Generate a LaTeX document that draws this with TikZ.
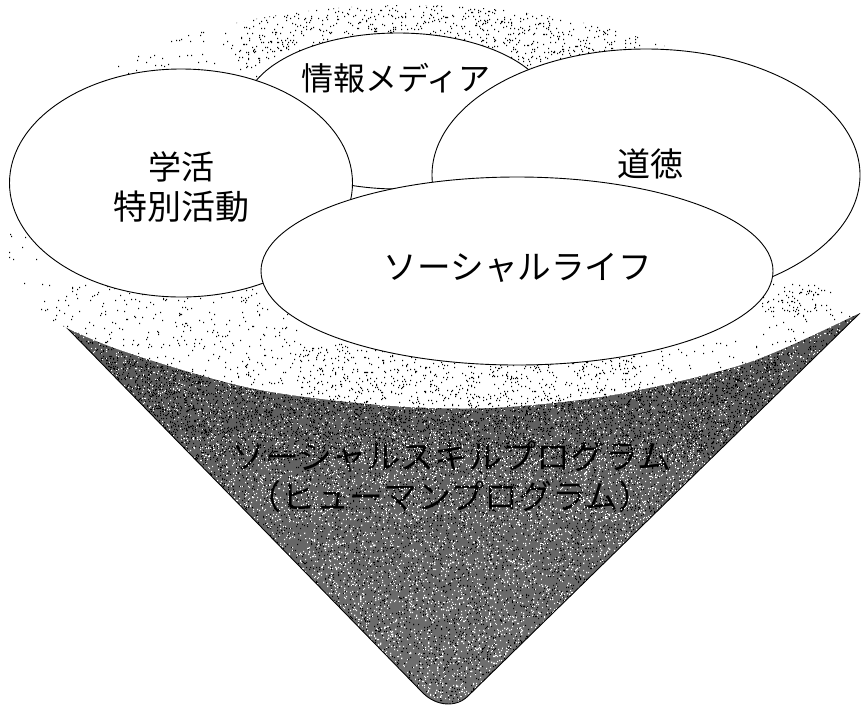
\documentclass[tikz,border=0pt]{standalone}
\usepackage{fontspec}
\setmainfont{Noto Sans CJK JP}
\newcount\dotn
\newcommand\speckle[6]{% count, xmin, xmax, ymin, ymax, size
  \dotn=0
  \loop\ifnum\dotn<#1
    \pgfmathrandominteger{\myrx}{#2}{#3}%
    \pgfmathrandominteger{\myry}{#4}{#5}%
    \pgfpathrectangle{\pgfqpoint{\myrx pt}{-\myry pt}}{\pgfqpoint{#6}{#6}}%
    \advance\dotn by 1
  \repeat
  \pgfusepath{fill}}
\newcommand\speckleMany[6]{% batches of 200
  \foreach \mybatch in {1,...,#1}{\speckle{200}{#2}{#3}{#4}{#5}{#6}}}
\def\discpath{(-5,270) -- (-5,282) plot[smooth] coordinates {(-5,282) (43,316) (120,350) (250,388) (380,405) (490,408) (613,395) (747,363) (860,313) (870,308)} -- (870,0) -- (-5,0) -- cycle}
\tikzset{
  bubble/.style={draw=black,fill=white,line width=0.9pt},
  lbl/.style={font=\fontsize{33}{33}\selectfont,inner sep=0pt,text=black},
  conelbl/.style={font=\fontsize{34}{34}\selectfont,inner sep=0pt,text=black},
}
\pgfmathsetseed{4711}
\begin{document}
\begin{tikzpicture}[x=1pt,y=-1pt]
\useasboundingbox (0,0) rectangle (861,705);
\fill[white] (0,0) rectangle (861,705);
% cone
\begin{scope}
  \clip (33,293) -- (423,693) .. controls (436,706) and (456,708) .. (468,696) -- (860,313) -- cycle;
  \shade[top color=black!66,bottom color=black!56] (0,280) rectangle (861,705);
  \pgfsetfillcolor{black}
  \speckleMany{95}{30}{860}{290}{705}{1.1pt}
  \pgfsetfillcolor{white}
  \speckleMany{70}{30}{860}{290}{705}{1.1pt}
  \pgfsetfillcolor{black}
  \speckleMany{30}{100}{780}{330}{460}{1.1pt}
  \pgfsetfillcolor{white}
  \speckleMany{5}{300}{640}{520}{705}{1.4pt}
  \node[conelbl] (skill) at (451.5,457) {ソーシャルスキルプログラム};
  \node[conelbl] (human) at (450,497) {（ヒューマンプログラム）};
  \pgfsetfillcolor{white}
  \speckleMany{8}{200}{700}{435}{520}{1.1pt}
\end{scope}
\draw[line width=0.9pt,black] (33,293) -- (423,693) .. controls (436,706) and (456,708) .. (468,696) -- (860,313);
% disc
\fill[white] \discpath;
\begin{scope}
  \clip \discpath;
  \pgfsetfillcolor{black}
  \speckle{450}{40}{300}{285}{385}{1.2pt}
  \speckle{950}{300}{640}{345}{408}{1.2pt}
  \speckle{50}{640}{760}{340}{385}{1.2pt}
  \speckle{80}{762}{830}{285}{312}{1.2pt}
  \speckle{30}{760}{850}{310}{345}{1.2pt}
  \speckle{20}{5}{60}{210}{310}{1.2pt}
\end{scope}
\begin{scope}
  \clip (410,205) ellipse [x radius=420,y radius=200];
  \pgfsetfillcolor{black}
  \speckle{1200}{235}{640}{5}{70}{1.2pt}
  \speckle{70}{115}{260}{30}{90}{1.2pt}
  \speckle{20}{640}{770}{20}{75}{1.2pt}
\end{scope}
% ellipses
\draw[bubble] (398,111) ellipse [x radius=154,y radius=78];
\draw[bubble] (181,183) ellipse [x radius=171.5,y radius=114];
\draw[bubble] (646,175) ellipse [x radius=214,y radius=126];
\draw[bubble] (517,271) ellipse [x radius=256,y radius=94];
% labels
\node[lbl,font=\fontsize{32}{32}\selectfont] (media) at (396,78) {情報メディア};
\node[lbl] (gakkatsu) at (181,167) {学活};
\node[lbl,font=\fontsize{34}{34}\selectfont] (tokubetsu) at (181,207) {特別活動};
\node[lbl] (doutoku) at (650,164) {道徳};
\node[lbl,font=\fontsize{33.6}{34}\selectfont] (social) at (518,268) {ソーシャルライフ};
\end{tikzpicture}
\end{document}
